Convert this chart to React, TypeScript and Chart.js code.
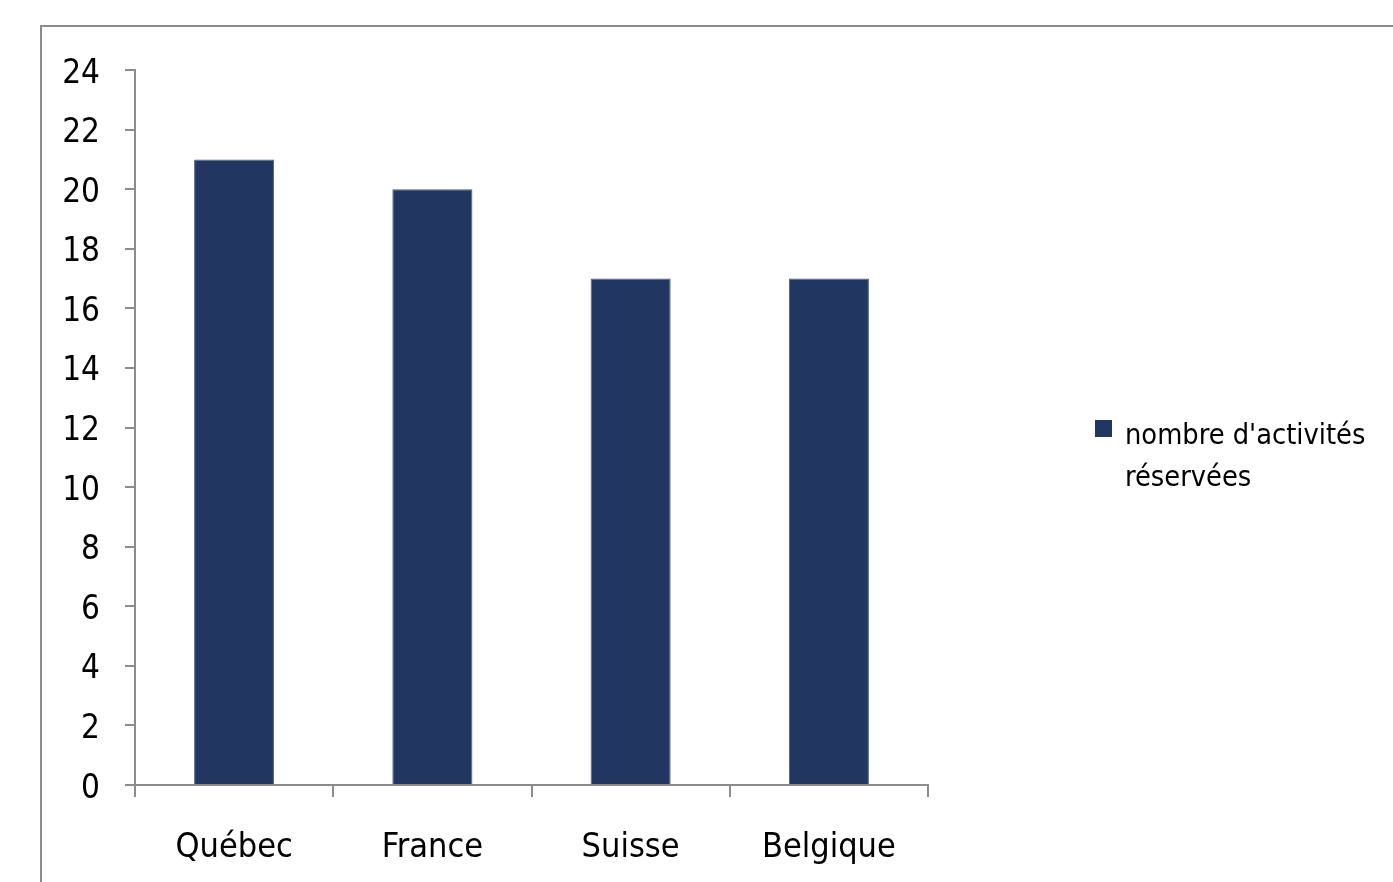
import React, { useEffect, useRef } from "react";
import { Chart, registerables } from "chart.js";

Chart.register(...registerables);

const categories = ["Québec", "France", "Suisse", "Belgique"];
const values = [21, 20, 17, 17];
const seriesLabel = "nombre d'activités réservées";
const legendLines = ["nombre d'activités", "réservées"];

const FONT = "'DejaVu Sans Condensed', 'Liberation Sans Narrow', 'DejaVu Sans', sans-serif";
const BAR = "#213761";
const AXIS = "#8c8c8c";

const framePlugin = {
  id: "frame",
  beforeDraw(chart: any) {
    const ctx = chart.ctx;
    ctx.save();
    ctx.strokeStyle = AXIS;
    ctx.lineWidth = 2;
    ctx.strokeRect(41, 26, 2000, 2000);
    ctx.restore();
  },
};

export default function App() {
  const ref = useRef<HTMLCanvasElement>(null);
  useEffect(() => {
    if (!ref.current) return;
    const chart = new Chart(ref.current, {
      type: "bar",
      data: {
        labels: categories,
        datasets: [
          {
            label: seriesLabel,
            data: values,
            backgroundColor: BAR,
            borderColor: "#4a5f86",
            borderWidth: 1,
            categoryPercentage: 1,
            barPercentage: 0.404,
          },
        ],
      },
      options: {
        animation: false,
        responsive: false,
        devicePixelRatio: 1,
        layout: { padding: { left: 0, top: 70, right: 465, bottom: 0 } },
        plugins: { legend: { display: false }, tooltip: { enabled: false } },
        scales: {
          x: {
            afterFit(scale: any) {
              scale.height = 97;
            },
            grid: {
              offset: true,
              drawOnChartArea: false,
              drawTicks: true,
              tickLength: 12,
              color: AXIS,
              lineWidth: 2,
            },
            border: { color: AXIS, width: 2 },
            ticks: {
              color: "#000",
              font: { family: FONT, size: 34 },
              padding: 31,
              maxRotation: 0,
            },
          },
          y: {
            min: 0,
            max: 24,
            afterFit(scale: any) {
              scale.width = 135;
            },
            grid: {
              drawOnChartArea: false,
              drawTicks: true,
              tickLength: 10,
              color: AXIS,
              lineWidth: 2,
            },
            border: { color: AXIS, width: 2 },
            ticks: {
              stepSize: 2,
              color: "#000",
              font: { family: FONT, size: 33 },
              padding: 25,
              labelOffset: 4,
            },
          },
        },
      },
      plugins: [framePlugin],
    });
    return () => chart.destroy();
  }, []);

  return (
    <div style={{ position: "fixed", left: 0, top: 0, width: 1393, height: 882, background: "#fff", overflow: "hidden" }}>
      <canvas ref={ref} width={1393} height={882} style={{ position: "absolute", left: 0, top: 0 }} />
      <div style={{ position: "absolute", left: 1095, top: 420, width: 17, height: 17, background: BAR }} />
      <div
        style={{
          position: "absolute",
          left: 1125,
          top: 413,
          fontFamily: FONT,
          fontSize: 28.7,
          lineHeight: "42px",
          color: "#000",
          whiteSpace: "nowrap",
        }}
      >
        {legendLines.map((l, i) => (
          <div key={i}>{l}</div>
        ))}
      </div>
    </div>
  );
}
